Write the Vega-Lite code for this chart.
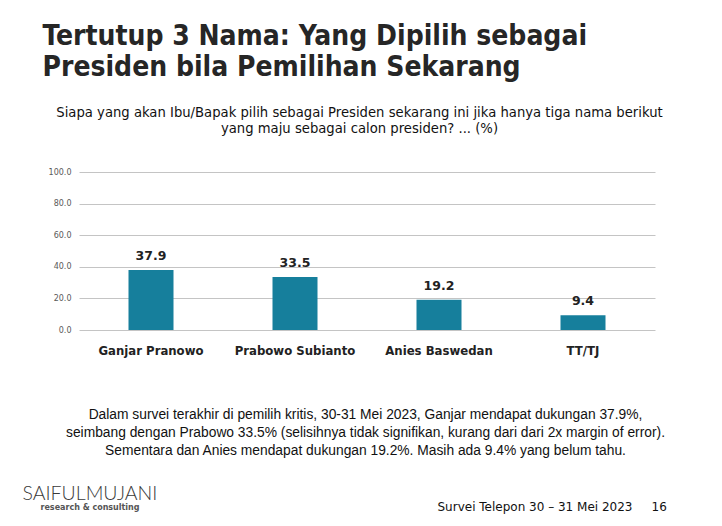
{
  "$schema": "https://vega.github.io/schema/vega-lite/v6.json",
  "width": 576,
  "height": 158,
  "autosize": {"type": "none"},
  "padding": {"left": 79, "top": 172, "right": 67, "bottom": 196},
  "background": "#ffffff",
  "config": {"view": {"stroke": null}},
  "data": {"values": [
    {"kandidat": "Ganjar Pranowo", "persen": 37.9},
    {"kandidat": "Prabowo Subianto", "persen": 33.5},
    {"kandidat": "Anies Baswedan", "persen": 19.2},
    {"kandidat": "TT/TJ", "persen": 9.4}
  ]},
  "resolve": {"axis": {"x": "independent", "y": "shared"}},
  "layer": [
    {
      "mark": {"type": "bar", "color": "#167f9c"},
      "encoding": {
        "x": {"field": "kandidat", "type": "nominal", "sort": null,
          "scale": {"paddingInner": 0.6875, "paddingOuter": 0.34375},
          "axis": {"orient": "bottom", "labelAngle": 0, "labelFont": "DejaVu Sans Condensed", "labelFontSize": 13, "labelFontWeight": "bold", "labelColor": "#222222", "labelPadding": 20, "labelBaseline": "middle", "domain": false, "ticks": false, "grid": false,
            "title": ["Dalam survei terakhir di pemilih kritis, 30-31 Mei 2023, Ganjar mendapat dukungan 37.9%,", "seimbang dengan Prabowo 33.5% (selisihnya tidak signifikan, kurang dari dari 2x margin of error).", "Sementara dan Anies mendapat dukungan 19.2%. Masih ada 9.4% yang belum tahu."],
            "titleX": 286, "titleY": 88, "titleAlign": "center", "titleBaseline": "alphabetic", "titleAngle": 0, "titleAnchor": null,
            "titleFont": "Liberation Sans", "titleFontSize": 13.8, "titleFontWeight": "normal", "titleColor": "#111111", "titleLineHeight": 18}},
        "y": {"field": "persen", "type": "quantitative", "scale": {"domain": [0, 100], "nice": false},
          "axis": {"orient": "left", "values": [0, 20, 40, 60, 80, 100], "format": ".1f", "labelFont": "DejaVu Sans", "labelFontSize": 8, "labelColor": "#595959", "labelPadding": 8, "grid": true, "gridColor": "#c4c4c4", "gridWidth": 1, "domain": false, "ticks": false, "title": null}}
      }
    },
    {
      "mark": {"type": "text", "baseline": "alphabetic", "dy": -10, "font": "DejaVu Sans", "fontSize": 12.5, "fontWeight": "bold", "color": "#222222"},
      "encoding": {
        "x": {"field": "kandidat", "type": "nominal", "sort": null,
          "axis": {"orient": "top", "labels": false, "domain": false, "ticks": false, "grid": false,
            "title": ["Siapa yang akan Ibu/Bapak pilih sebagai Presiden sekarang ini jika hanya tiga nama berikut", "yang maju sebagai calon presiden? ... (%)"],
            "titleX": 280, "titleY": -56, "titleAlign": "center", "titleBaseline": "alphabetic", "titleAngle": 0, "titleAnchor": null,
            "titleFont": "DejaVu Sans", "titleFontSize": 13.2, "titleFontWeight": "normal", "titleColor": "#111111", "titleLineHeight": 16}},
        "y": {"field": "persen", "type": "quantitative",
          "axis": {"orient": "left", "values": [0, 20, 40, 60, 80, 100], "format": ".1f", "labelFont": "DejaVu Sans", "labelFontSize": 8, "labelColor": "#595959", "labelPadding": 8, "grid": true, "gridColor": "#c4c4c4", "gridWidth": 1, "domain": false, "ticks": false, "title": null}},
        "text": {"field": "persen", "type": "quantitative", "format": ".1f"}
      }
    },
    {
      "mark": {"type": "bar", "opacity": 0},
      "encoding": {
        "x": {"field": "kandidat", "type": "nominal", "sort": null,
          "axis": {"orient": "top", "labels": false, "domain": false, "ticks": false, "grid": false,
            "title": ["Tertutup 3 Nama: Yang Dipilih sebagai", "Presiden bila Pemilihan Sekarang"],
            "titleX": -37, "titleY": -128, "titleAlign": "left", "titleBaseline": "alphabetic", "titleAngle": 0, "titleAnchor": null,
            "titleFont": "DejaVu Sans Condensed", "titleFontSize": 28, "titleFontWeight": "bold", "titleColor": "#262626", "titleLineHeight": 31}}
      }
    },
    {
      "mark": {"type": "bar", "opacity": 0},
      "encoding": {
        "x": {"field": "kandidat", "type": "nominal", "sort": null,
          "axis": {"orient": "bottom", "labels": false, "domain": false, "ticks": false, "grid": false,
            "title": "SAIFULMUJANI",
            "titleX": -57, "titleY": 169, "titleAlign": "left", "titleBaseline": "alphabetic", "titleAngle": 0, "titleAnchor": null,
            "titleFont": "Lato", "titleFontSize": 19.5, "titleFontWeight": 300, "titleColor": "#3a3a3a"}}
      }
    },
    {
      "mark": {"type": "bar", "opacity": 0},
      "encoding": {
        "x": {"field": "kandidat", "type": "nominal", "sort": null,
          "axis": {"orient": "bottom", "labels": false, "domain": false, "ticks": false, "grid": false,
            "title": "research & consulting",
            "titleX": -39, "titleY": 179, "titleAlign": "left", "titleBaseline": "alphabetic", "titleAngle": 0, "titleAnchor": null,
            "titleFont": "DejaVu Sans", "titleFontSize": 8, "titleFontWeight": "bold", "titleColor": "#555555"}}
      }
    },
    {
      "mark": {"type": "bar", "opacity": 0},
      "encoding": {
        "x": {"field": "kandidat", "type": "nominal", "sort": null,
          "axis": {"orient": "bottom", "labels": false, "domain": false, "ticks": false, "grid": false,
            "title": "Survei Telepon 30 – 31 Mei 2023",
            "titleX": 358, "titleY": 180, "titleAlign": "left", "titleBaseline": "alphabetic", "titleAngle": 0, "titleAnchor": null,
            "titleFont": "DejaVu Sans", "titleFontSize": 12, "titleFontWeight": "normal", "titleColor": "#111111"}}
      }
    },
    {
      "mark": {"type": "bar", "opacity": 0},
      "encoding": {
        "x": {"field": "kandidat", "type": "nominal", "sort": null,
          "axis": {"orient": "bottom", "labels": false, "domain": false, "ticks": false, "grid": false,
            "title": "16",
            "titleX": 572, "titleY": 180, "titleAlign": "left", "titleBaseline": "alphabetic", "titleAngle": 0, "titleAnchor": null,
            "titleFont": "DejaVu Sans", "titleFontSize": 12, "titleFontWeight": "normal", "titleColor": "#111111"}}
      }
    }
  ]
}
